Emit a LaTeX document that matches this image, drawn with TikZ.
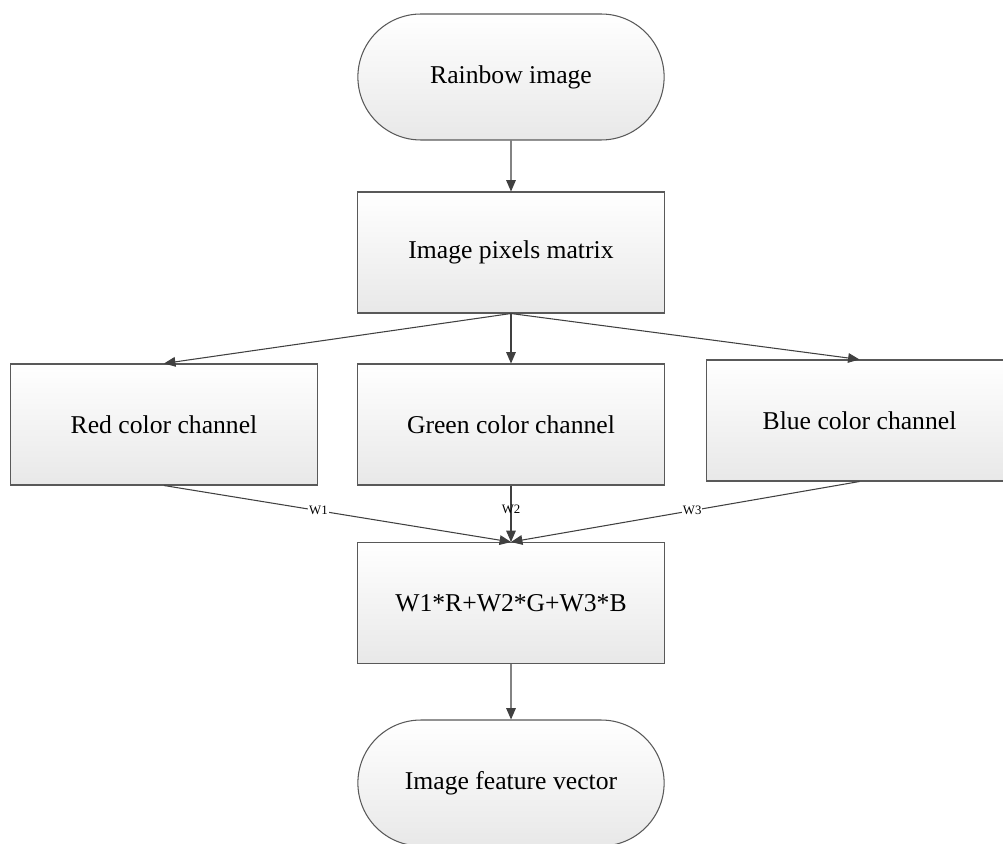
\documentclass[tikz,border=0pt]{standalone}
\usepackage{fontspec}
\setmainfont{Liberation Serif}
\usetikzlibrary{arrows.meta}
\usetikzlibrary{shapes.misc}

\begin{document}
\begin{tikzpicture}[x=0.02cm, y=-0.02cm,
    box/.style={draw=black!65, line width=0.6pt, top color=white, bottom color=black!9,
      minimum width=6.14cm, minimum height=2.42cm, font=\fontsize{14.6}{17}\selectfont},
    term/.style={box, rounded rectangle, minimum width=6.36cm, minimum height=2.52cm},
    arr/.style={draw=black!75, line width=0.6pt, -{Triangle[length=6.5pt,width=5.5pt]}},
    wlab/.style={fill=white, inner sep=0.5pt, font=\fontsize{7.3}{8}\selectfont}]
    \useasboundingbox (0, 0) rectangle (1003, 844);
    \path (511, 77) node [term] (rb) {Rainbow image};
    \path (511, 252.5) node [box] (pm) {Image pixels matrix};
    \draw [arr] (rb) -- (pm);
    \path (164, 424.5) node [box] (red) {Red color channel};
    \path (511, 424.5) node [box] (green) {Green color channel};
    \path (859.5, 420.5) node [box] (blue) {Blue color channel};
    \draw [arr] (pm.south) -- (red.north);
    \draw [arr] (pm.south) -- (green.north);
    \draw [arr] (pm.south) -- (blue.north);
    \path (511, 603) node [box] (ws) {W1*R+W2*G+W3*B};
    \draw [arr] (red.south) -- (ws.north) node[pos=0.445,wlab] {W1};
    \draw [arr] (green.south) -- (ws.north) node[pos=0.43,wlab,fill=none] {W2};
    \draw [arr] (blue.south) -- (ws.north) node[pos=0.48,wlab] {W3};
    \path (511, 783) node [term] (fv) {Image feature vector};
    \draw [arr] (ws) -- (fv);
\end{tikzpicture}
\end{document}
